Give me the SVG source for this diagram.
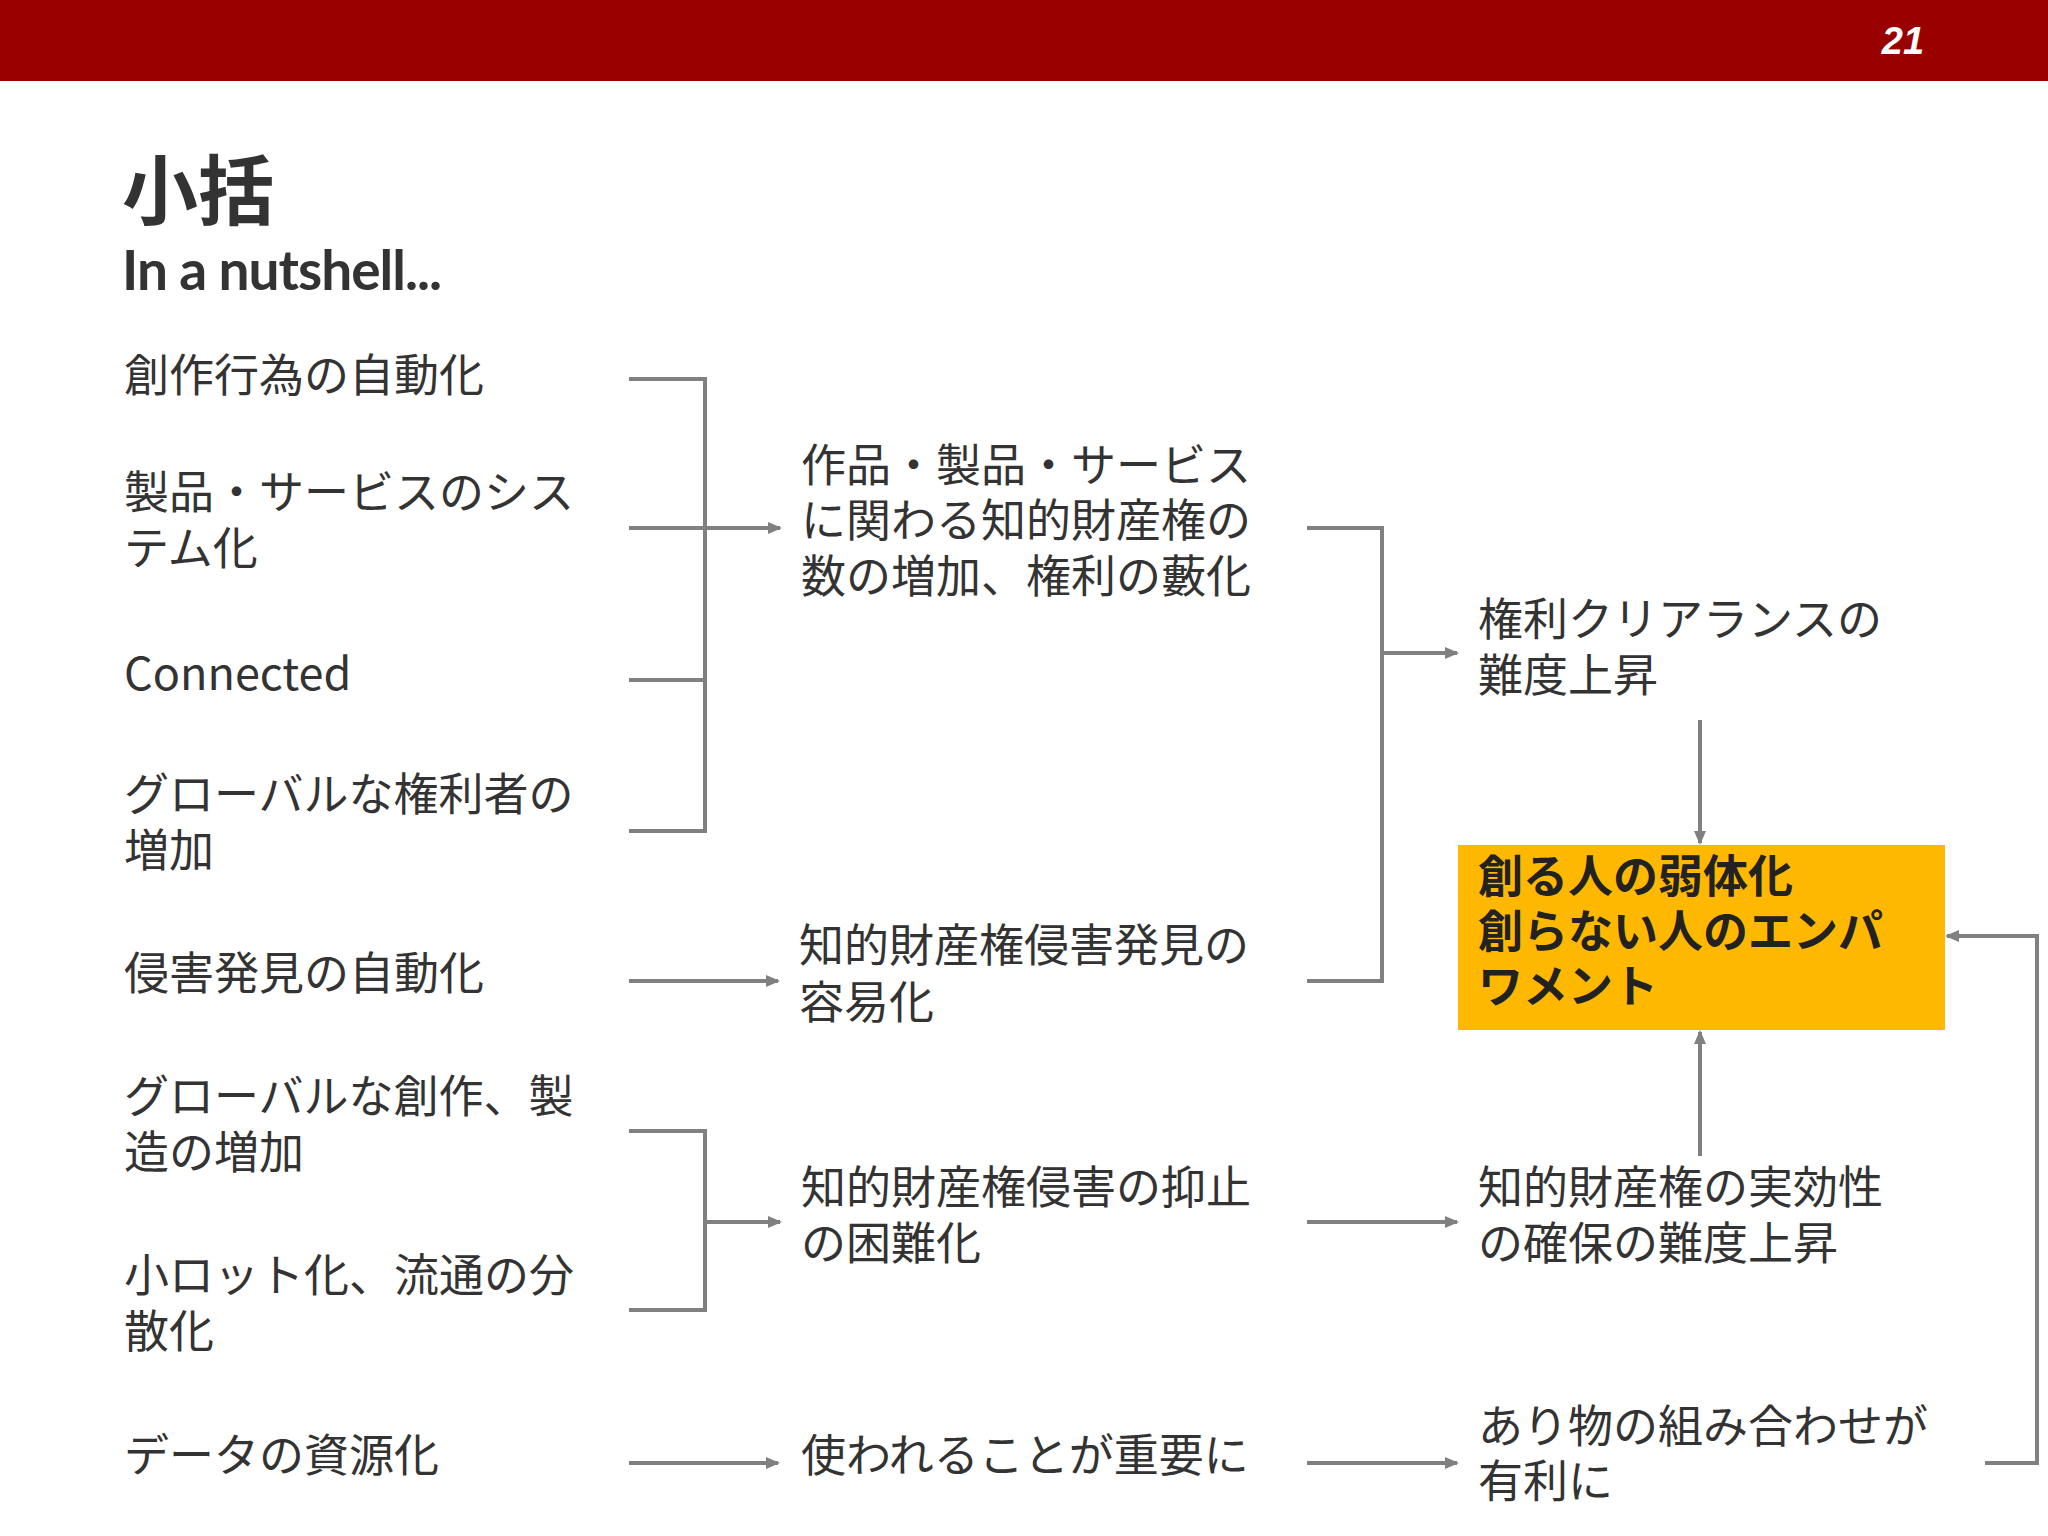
<svg xmlns="http://www.w3.org/2000/svg" width="2048" height="1536" viewBox="0 0 2048 1536">
<defs>
<marker id="ah" markerWidth="14" markerHeight="14" refX="12" refY="7" orient="auto" markerUnits="userSpaceOnUse" viewBox="0 0 14 14"><path d="M0,1 L14,7 L0,13 z" fill="#808080"/></marker>
<style>
.t{font-family:"Noto Sans CJK JP","Noto Sans",sans-serif;font-size:45px;fill:#333}
.b{font-family:"Noto Sans CJK JP","Noto Sans",sans-serif;font-size:45px;font-weight:bold;fill:#222}
.c{fill:none;stroke:#808080;stroke-width:4}
.a{fill:none;stroke:#808080;stroke-width:4;marker-end:url(#ah)}
</style>
</defs>
<rect width="2048" height="1536" fill="#fff"/>
<rect x="0" y="0" width="2048" height="81" fill="#990000"/>
<text x="1903" y="54" font-family="Liberation Sans,sans-serif" font-size="38" font-weight="bold" font-style="italic" fill="#fff" text-anchor="middle">21</text>
<text x="122" y="219" font-family="Noto Sans CJK JP,sans-serif" font-size="76" font-weight="bold" fill="#333">小括</text>
<text x="122" y="290" font-family="Lato,Noto Sans,sans-serif" font-size="55" font-weight="bold" fill="#333" letter-spacing="-1">In a nutshell...</text>

<g id="l1"><text class="t" x="124" y="392">創作行為の自動化</text></g>
<g id="l2"><text class="t" x="124" y="509">製品・サービスのシス</text><text class="t" x="124" y="565">テム化</text></g>
<g id="l3"><text class="t" x="124" y="690">Connected</text></g>
<g id="l4"><text class="t" x="124" y="811">グローバルな権利者の</text><text class="t" x="124" y="867">増加</text></g>
<g id="l5"><text class="t" x="124" y="990">侵害発見の自動化</text></g>
<g id="l6"><text class="t" x="124" y="1113">グローバルな創作、製</text><text class="t" x="124" y="1169">造の増加</text></g>
<g id="l7"><text class="t" x="124" y="1292">小ロット化、流通の分</text><text class="t" x="124" y="1348">散化</text></g>
<g id="l8"><text class="t" x="124" y="1472">データの資源化</text></g>

<g id="m1"><text class="t" x="801" y="482">作品・製品・サービス</text><text class="t" x="801" y="537">に関わる知的財産権の</text><text class="t" x="801" y="593">数の増加、権利の藪化</text></g>
<g id="m2"><text class="t" x="799" y="962">知的財産権侵害発見の</text><text class="t" x="799" y="1019">容易化</text></g>
<g id="m3"><text class="t" x="801" y="1204">知的財産権侵害の抑止</text><text class="t" x="801" y="1260">の困難化</text></g>
<g id="m4"><text class="t" x="801" y="1472">使われることが重要に</text></g>

<g id="r1"><text class="t" x="1478" y="636">権利クリアランスの</text><text class="t" x="1478" y="692">難度上昇</text></g>
<g id="r2"><rect x="1458" y="845" width="487" height="185" fill="#FFB800"/><text class="b" x="1478" y="893">創る人の弱体化</text><text class="b" x="1478" y="948">創らない人のエンパ</text><text class="b" x="1478" y="1003">ワメント</text></g>
<g id="r3"><text class="t" x="1478" y="1204">知的財産権の実効性</text><text class="t" x="1478" y="1260">の確保の難度上昇</text></g>
<g id="r4"><text class="t" x="1478" y="1443">あり物の組み合わせが</text><text class="t" x="1478" y="1498">有利に</text></g>

<g id="connectors">
<path class="c" d="M629,379 H705 V831 H629 M629,528 H705 M629,680 H705"/>
<path class="a" d="M705,528 H780"/>
<path class="a" d="M629,981 H778"/>
<path class="c" d="M629,1131 H705 V1310 H629"/>
<path class="a" d="M705,1222 H780"/>
<path class="a" d="M629,1463 H778"/>
<path class="c" d="M1307,528 H1382 V981 H1307"/>
<path class="a" d="M1382,653 H1457"/>
<path class="a" d="M1307,1222 H1457"/>
<path class="a" d="M1307,1463 H1457"/>
<path class="a" d="M1700,720 V843"/>
<path class="a" d="M1700,1156 V1032"/>
<path class="a" d="M1985,1463 H2037 V936 H1947"/>
</g>
</svg>
